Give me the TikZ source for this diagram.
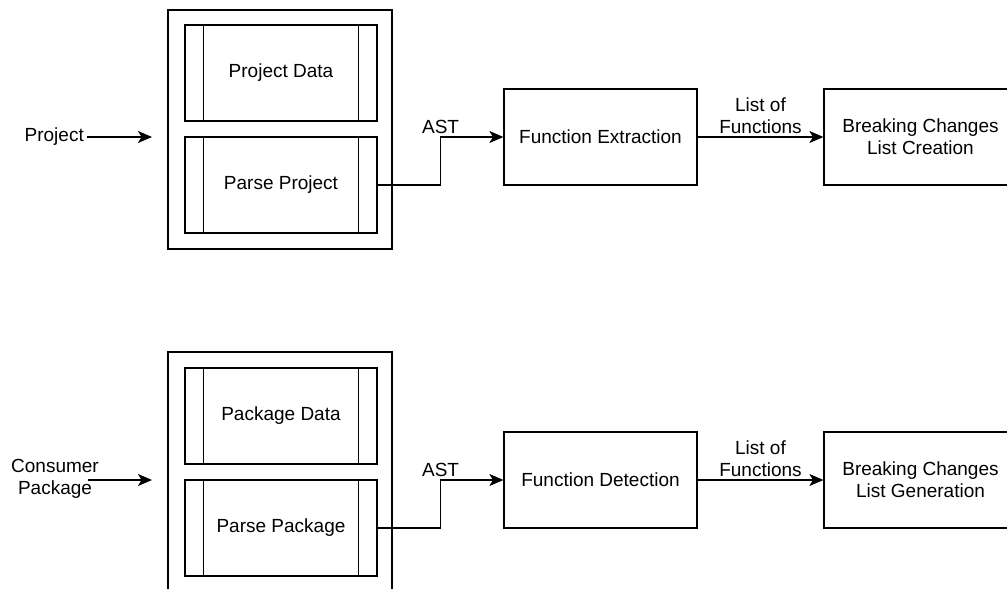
\documentclass[tikz,border=0pt]{standalone}
\usepackage{fontspec}
\setmainfont{Liberation Sans}
\usepackage{tikz}
\usetikzlibrary{arrows.meta,positioning,calc}
\tikzset{
  group/.style={
    rectangle, draw=black, line width=1.2pt,
    minimum width=224pt, minimum height=239pt,
    inner sep=0pt
  },
  proc/.style={
    rectangle, draw=black, line width=1.2pt,
    minimum width=192pt, minimum height=96pt,
    align=center, inner sep=4pt
  },
  stagebox/.style={proc, minimum width=193pt},
  flow/.style={-{Stealth[length=14pt,width=12pt,inset=3.5pt]}, line width=1.3pt, draw=black},
  lbl/.style={align=center, inner sep=3pt}
}
\begin{document}
\begin{tikzpicture}[x=1pt,y=-1pt,font=\fontsize{19}{22}\selectfont]
  \path[use as bounding box, clip] (0,0) rectangle (1007,589);

  % project pipeline (top)
  \node[group] (grpA) at (280,129.5) {};
  \node[proc] (pdata) at (281,73) {Project Data};
  \node[proc] (pproj) at (281,185) {Parse Project};
  \node[stagebox] (fext) at (600.5,137) {Function Extraction};
  \node[stagebox] (bcc) at (920.5,137) {Breaking Changes\\List Creation};
  \node[lbl, anchor=east] (proj) at (87,137) {Project};
  \coordinate (inA) at (152,137);

  % consumer pipeline (bottom)
  \node[group] (grpB) at (280,471.5) {};
  \node[proc] (kdata) at (281,416) {Package Data};
  \node[proc] (kpack) at (281,528) {Parse Package};
  \node[stagebox] (fdet) at (600.5,480) {Function Detection};
  \node[stagebox] (bcg) at (920.5,480) {Breaking Changes\\List Generation};
  \node[lbl] (cons) at (55,479) {Consumer\\Package};
  \coordinate (outB) at (88,480);
  \coordinate (inB) at (152,480);

  % side bars of the inner boxes
  \foreach \n in {pdata,pproj,kdata,kpack}
  {
    \draw[line width=1.2pt] ([xshift=19pt]\n.north west) -- ([xshift=19pt]\n.south west);
    \draw[line width=1.2pt] ([xshift=-19pt]\n.north east) -- ([xshift=-19pt]\n.south east);
  }

  % connectors
  \draw[flow] (proj.east) -- (inA);
  \draw[flow] (pproj.east) -- ++(63,0) |- (fext.west) node[pos=0.5, above, lbl] {AST};
  \draw[flow] (fext.east) -- (bcc.west) node[midway, above, lbl] {List of\\Functions};

  \draw[flow] (outB) -- (inB);
  \draw[flow] (kpack.east) -- ++(63,0) |- (fdet.west) node[pos=0.5, above, lbl] {AST};
  \draw[flow] (fdet.east) -- (bcg.west) node[midway, above, lbl] {List of\\Functions};
\end{tikzpicture}
\end{document}
